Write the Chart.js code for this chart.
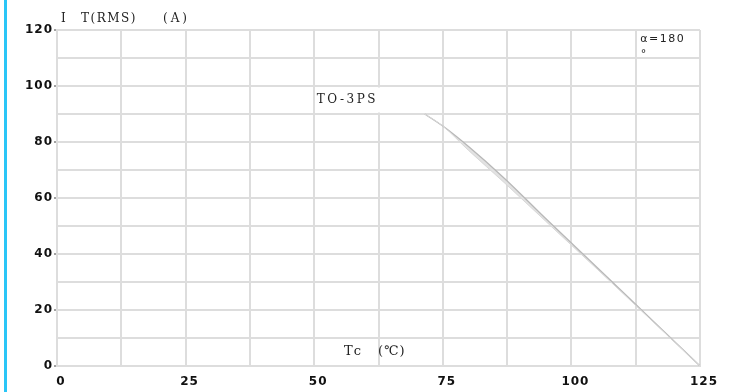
<!DOCTYPE html>
<html>
<head>
<meta charset="utf-8">
<script src="https://cdn.jsdelivr.net/npm/chart.js@4/dist/chart.umd.min.js"></script>
<style>
  html, body { margin: 0; padding: 0; background: #ffffff; }
  #wrap { width: 749px; height: 392px; position: relative; }
</style>
</head>
<body>
<div id="wrap"><canvas id="c" width="749" height="392"></canvas></div>
<script>
// Case temperature (°C) and on-state RMS current limits (A), TO-3PS package
const tcValues  = [71.5, 75, 80, 87, 95, 105, 115, 125];
const itUpper   = [90, 85.7, 78.4, 67.0, 52.7, 35.2, 17.6, 0];
const itLower   = [90, 85.7, 77.0, 65.4, 51.7, 34.6, 17.3, 0];

// Labelled tick values
const xTickLabels = [0, 25, 50, 75, 100, 125];
const yTickLabels = [0, 20, 40, 60, 80, 100, 120];

const GRID = '#dddddd';

const toPoints = (xs, ys) => xs.map((x, i) => ({ x: x, y: ys[i] }));

// Side bar, label box and annotation texts
const decor = {
  id: 'decor',
  beforeDraw(chart) {
    const ctx = chart.ctx;
    ctx.save();
    ctx.fillStyle = '#ffffff';
    ctx.fillRect(0, 0, chart.width, chart.height);
    ctx.fillStyle = '#2ac6f7';
    ctx.fillRect(4, 0, 3, chart.height);
    ctx.restore();
    ctx.letterSpacing = '1px';
  },
  afterDatasetsDraw(chart) {
    const ctx = chart.ctx;
    const xs = chart.scales.x, ys = chart.scales.y;
    ctx.save();
    ctx.letterSpacing = '0px';
    // white box behind the package label
    const bx0 = xs.getPixelForValue(50) + 1.5, bx1 = xs.getPixelForValue(75) - 1.5;
    const by0 = ys.getPixelForValue(100) + 1.5, by1 = ys.getPixelForValue(90) - 1.5;
    ctx.fillStyle = '#ffffff';
    ctx.fillRect(bx0, by0, bx1 - bx0, by1 - by0);

    ctx.fillStyle = '#222222';
    ctx.textBaseline = 'middle';
    ctx.textAlign = 'left';
    ctx.font = '12px "DejaVu Serif"';
    ctx.letterSpacing = '2.5px';
    ctx.fillText('TO-3PS', xs.getPixelForValue(50.5), ys.getPixelForValue(94.9));

    // axis captions
    ctx.letterSpacing = '1.5px';
    ctx.fillText('I', 61, 19);
    ctx.fillText('T(RMS)', 81, 19);
    ctx.letterSpacing = '3px';
    ctx.fillText('(A)', 163, 19);
    ctx.font = '13px "DejaVu Serif"';
    ctx.letterSpacing = '2px';
    ctx.fillText('Tc', xs.getPixelForValue(55.8), ys.getPixelForValue(5));
    ctx.letterSpacing = '1px';
    ctx.fillText('(℃)', xs.getPixelForValue(62.4), ys.getPixelForValue(5));

    // conduction angle note
    ctx.font = '11px "DejaVu Sans"';
    ctx.letterSpacing = '1.5px';
    ctx.fillText('α=180', xs.getPixelForValue(113.4), ys.getPixelForValue(116.6));
    ctx.fillText('°', xs.getPixelForValue(113.5), ys.getPixelForValue(111.5));
    ctx.restore();
  }
};

new Chart(document.getElementById('c'), {
  type: 'line',
  data: {
    datasets: [
      {
        data: toPoints(tcValues, itLower),
        borderColor: '#d8d8d8',
        borderWidth: 1,
        pointRadius: 0,
        cubicInterpolationMode: 'monotone',
        fill: false
      },
      {
        data: toPoints(tcValues, itUpper),
        borderColor: '#b8b8b8',
        borderWidth: 1.3,
        backgroundColor: '#e2e2e2',
        pointRadius: 0,
        cubicInterpolationMode: 'monotone',
        fill: '-1'
      }
    ]
  },
  options: {
    responsive: false,
    animation: false,
    devicePixelRatio: 1,
    layout: { padding: { left: 0, right: 49, top: 30, bottom: 0 } },
    plugins: { legend: { display: false }, tooltip: { enabled: false }, title: { display: false } },
    scales: {
      x: {
        type: 'linear',
        min: 0,
        max: 125,
        afterFit(scale) { scale.height = 26; },
        afterBuildTicks(scale) {
          const t = [];
          for (let v = 0; v <= 125; v += 12.5) t.push({ value: v });
          scale.ticks = t;
        },
        ticks: {
          autoSkip: false,
          maxRotation: 0,
          padding: 9,
          labelOffset: 4,
          color: '#111111',
          font: { family: '"DejaVu Sans"', size: 12, weight: 'bold' },
          callback: (v) => (xTickLabels.includes(v) ? String(v) : '')
        },
        grid: { color: GRID, lineWidth: 2, drawTicks: false },
        border: { color: GRID, width: 2 }
      },
      y: {
        min: 0,
        max: 120,
        afterFit(scale) { scale.width = 57; },
        ticks: {
          stepSize: 10,
          autoSkip: false,
          padding: 1,
          color: '#111111',
          font: { family: '"DejaVu Sans"', size: 12, weight: 'bold' },
          callback: (v) => (yTickLabels.includes(v) ? String(v) : '')
        },
        grid: {
          color: GRID,
          lineWidth: 2,
          drawTicks: true,
          tickLength: 3,
          tickWidth: 1,
          tickColor: (c) => (c.tick && yTickLabels.includes(c.tick.value) ? '#444444' : 'rgba(0,0,0,0)')
        },
        border: { color: GRID, width: 2 }
      }
    }
  },
  plugins: [decor]
});
</script>
</body>
</html>
